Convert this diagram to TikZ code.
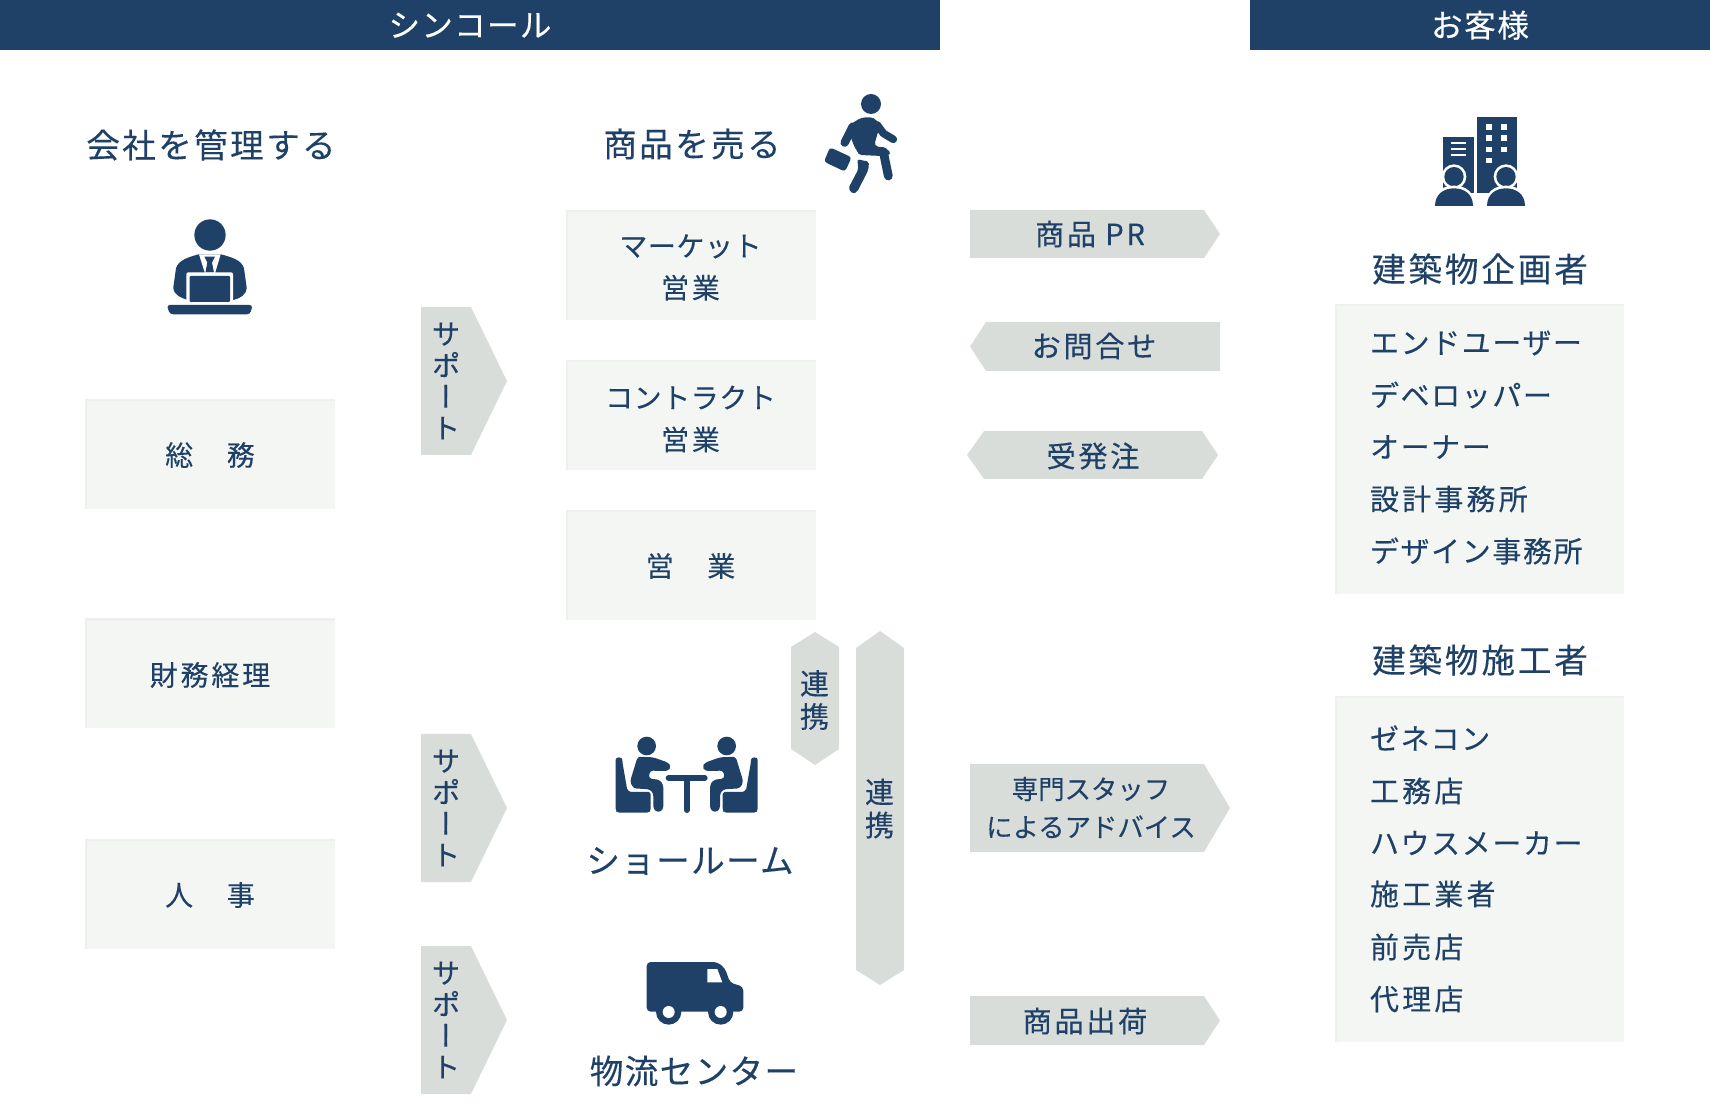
\documentclass[tikz,border=0pt]{standalone}
\usepackage{fontspec}
\setmainfont{Noto Sans CJK JP}[FakeBold=0.2]
\newfontfamily\vjp{Noto Sans CJK JP}[RawFeature=+vert,FakeBold=0.2]
\definecolor{navy}{HTML}{1F4168}
\definecolor{arrowgray}{HTML}{D9DDDA}
\definecolor{panel}{HTML}{F4F6F4}
\definecolor{paneledge}{HTML}{EEF0EE}
\newcommand{\jf}[2]{\fontsize{#1}{#1}\selectfont\addfontfeatures{LetterSpace=#2}}
\newcommand{\wide}[1]{{\addfontfeatures{LetterSpace=10}#1}}
\tikzset{
  lbl/.style={text=navy,inner sep=0pt,outer sep=0pt,align=center},
  headbar/.style={fill=navy,text=white,inner sep=0pt,outer sep=0pt,minimum height=25.2pt},
  heading/.style={lbl,font=\jf{16.8pt}{7}},
  kanaheading/.style={lbl,font=\jf{16.8pt}{4}},
  kanjiheading/.style={lbl,font=\jf{16.8pt}{8.5}},
  boxtext/.style={lbl,font=\fontsize{14pt}{21pt}\selectfont\addfontfeatures{LetterSpace=2}},
  kanjibox/.style={lbl,font=\fontsize{14pt}{21pt}\selectfont\addfontfeatures{LetterSpace=10}},
  lightbox/.style={fill=panel,inner sep=0pt,outer sep=0pt,
    path picture={
      \fill[paneledge] (path picture bounding box.north west) rectangle ([yshift=-1.2pt]path picture bounding box.north east);
      \fill[paneledge] (path picture bounding box.north west) rectangle ([xshift=1.2pt]path picture bounding box.south west);
    }},
  midbox/.style={lightbox,minimum width=125pt,minimum height=55pt},
  listitem/.style={lbl,anchor=west,font=\jf{14.5pt}{5.5}},
  kanjilist/.style={lbl,anchor=west,font=\jf{14.5pt}{11}},
  arrowtext/.style={lbl,font=\jf{14.6pt}{9}},
  vtext/.style={lbl,font={\vjp\fontsize{14.5pt}{15.7pt}\selectfont}},
  ltext/.style={lbl,font=\fontsize{14.5pt}{16.5pt}\selectfont},
  grayshape/.style={fill=arrowgray},
  icon/.style={fill=navy,draw=none},
  limb/.style={draw=navy,line cap=round,line join=round}
}
\begin{document}
\begin{tikzpicture}[x=0.5pt,y=-0.5pt]
\useasboundingbox (0,0) rectangle (1710,1117);

% headers
\node[headbar,minimum width=470pt,font=\jf{15.8pt}{4}] (hL) at (470,25.2) {シンコール};
\node[headbar,minimum width=230pt,font=\jf{15.8pt}{5}] (hR) at (1480,25.2) {お客様};

% headings
\node[heading] (tAdmin) at (211,145) {会社を管理する};
\node[heading] (tSell) at (692,144) {商品を売る};
\node[kanjiheading] (tPlan) at (1480,269) {建築物企画者};
\node[kanjiheading] (tBuild) at (1480,660) {建築物施工者};
\node[kanaheading] (tShow) at (690,861) {ショールーム};
\node[kanaheading] (tLog) at (694,1071) {物流センター};

% left boxes
\node[midbox] (b1) at (210,454) {};
\node[kanjibox] (b1t) at (210,455) {総　務};
\node[midbox] (b2) at (210,673.5) {};
\node[kanjibox] (b2t) at (210,675) {財務経理};
\node[midbox] (b3) at (210,894) {};
\node[kanjibox] (b3t) at (210,895) {人　事};
% middle boxes
\node[midbox] (m1) at (690.5,265) {};
\node[boxtext] (m1t) at (690.5,267.5) {マーケット\\\wide{営業}};
\node[midbox] (m2) at (690.5,415) {};
\node[boxtext] (m2t) at (690.5,419) {コントラクト\\\wide{営業}};
\node[midbox] (m3) at (690.5,565) {};
\node[kanjibox] (m3t) at (690.5,566) {営　業};

% customer panels
\node[lightbox,minimum width=144.5pt,minimum height=145pt] (c1) at (1479.5,449) {};
\node[lightbox,minimum width=144.5pt,minimum height=173pt] (c2) at (1479.5,869) {};
\node[listitem] (l1) at (1370,343) {エンドユーザー};
\node[listitem] (l2) at (1370,395) {デベロッパー};
\node[listitem] (l3) at (1370,447) {オーナー};
\node[kanjilist] (l4) at (1370,499) {設計事務所};
\node[listitem] (l5) at (1370,551) {デザイン事務所};
\node[listitem] (k1) at (1370,738) {ゼネコン};
\node[kanjilist] (k2) at (1370,791) {工務店};
\node[listitem] (k3) at (1370,843) {ハウスメーカー};
\node[kanjilist] (k4) at (1370,894) {施工業者};
\node[kanjilist] (k5) at (1370,947) {前売店};
\node[kanjilist] (k6) at (1370,999) {代理店};

% support arrows
\foreach \t/\nm in {307/s1,734/s2,946/s3}{
  \fill[grayshape] (421,\t) -- (471,\t) -- (507,\t+74) -- (471,\t+148) -- (421,\t+148) -- cycle;
  \node[vtext] (\nm) at (446,\t+74) {サ\\ポ\\ー\\ト};
}

% link shapes
\fill[grayshape] (815,632) -- (839,647) -- (839,749) -- (815,765) -- (791,749) -- (791,647) -- cycle;
\node[ltext] (r1) at (814.5,700) {連\\携};
\fill[grayshape] (880,631) -- (904,648) -- (904,970) -- (880,985) -- (856,970) -- (856,648) -- cycle;
\node[ltext] (r2) at (879.5,808.5) {連\\携};

% horizontal arrows
\fill[grayshape] (970,210) -- (1204,210) -- (1220,234) -- (1204,258) -- (970,258) -- cycle;
\node[arrowtext] (a1) at (1090,234) {商品 PR};
\fill[grayshape] (970,346.5) -- (986,322) -- (1220,322) -- (1220,371) -- (986,371) -- cycle;
\node[arrowtext] (a2) at (1094,346) {お問合せ};
\fill[grayshape] (967,455) -- (984,431) -- (1202,431) -- (1218,455) -- (1202,479) -- (984,479) -- cycle;
\node[arrowtext] (a3) at (1093,456) {受発注};
\fill[grayshape] (970,764) -- (1204,764) -- (1230,808) -- (1204,852) -- (970,852) -- cycle;
\node[lbl,font=\fontsize{13.2pt}{19pt}\selectfont] (a4) at (1091,807.5) {専門スタッフ\\によるアドバイス};
\fill[grayshape] (970,996) -- (1204,996) -- (1220,1020.5) -- (1204,1045) -- (970,1045) -- cycle;
\node[arrowtext] (a5) at (1085,1021) {商品出荷};

% runner icon
\begin{scope}[shift={(800,80)},scale=1/3]
  \fill[icon] (213,72) circle (30);
  \draw[limb,line width=4.2pt] (158,140) -- (134,188);
  \draw[limb,line width=3.8pt] (232,135) -- (250,160) -- (280,178);
  \fill[icon,rounded corners=2pt] (140,140) -- (185,112) -- (222,112) -- (240,135) -- (222,198) -- (262,205) -- (275,225) -- (180,225) -- (165,205) -- cycle;
  \draw[limb,line width=4.4pt] (185,212) -- (250,215) -- (265,288);
  \fill[icon,rounded corners=1pt] (172,238) -- (207,245) -- (205,270) -- (172,335) -- (158,342) -- (145,325) -- (175,268) -- cycle;
  \fill[icon,rounded corners=1.5pt] (90,202) -- (155,232) -- (135,275) -- (72,245) -- cycle;
\end{scope}

% office worker icon
\begin{scope}[shift={(150,200)},scale=1/3]
  \fill[icon] (180,105) circle (47);
  \fill[icon] (145,163) .. controls (115,172) and (85,180) .. (78,205) -- (70,262) .. controls (70,285) and (95,295) .. (115,300) -- (250,300) .. controls (270,295) and (290,285) .. (290,262) -- (282,205) .. controls (275,180) and (245,172) .. (213,163) -- cycle;
  \fill[white] (147,163) -- (212,163) -- (195,220) -- (165,220) -- cycle;
  \fill[icon] (163,170) -- (195,170) -- (186,188) -- (192,218) -- (166,218) -- (172,188) -- cycle;
  \fill[white,rounded corners=1pt] (109,217) rectangle (249,306);
  \fill[icon,rounded corners=0.5pt] (119,228) rectangle (240,306);
  \fill[icon,rounded corners=1.5pt] (50,315) -- (308,315) -- (300,343) -- (60,343) -- cycle;
\end{scope}

% building icon
\begin{scope}[shift={(1420,100)},scale=1/3]
  \fill[icon] (172,52) rectangle (290,278);
  \foreach \y in {72,106,140}{
    \fill[white] (199,\y) rectangle (217,\y+17);
    \fill[white] (244,\y) rectangle (262,\y+17);
  }
  \fill[white] (199,174) rectangle (217,190);
  \fill[icon] (70,112) rectangle (162,278);
  \foreach \y in {130,148,166}{\fill[white] (94,\y-3) rectangle (138,\y+3);}
  \foreach \c in {102,258}{
    \fill[white] (\c,230) circle (37);
    \fill[icon] (\c,230) circle (29);
    \fill[white] (\c-66,325) .. controls (\c-62,272) and (\c-32,257) .. (\c,257) .. controls (\c+32,257) and (\c+62,272) .. (\c+66,325) -- cycle;
    \fill[icon] (\c-57,318) .. controls (\c-57,282) and (\c-30,265) .. (\c,265) .. controls (\c+30,265) and (\c+57,282) .. (\c+57,318) -- cycle;
  }
\end{scope}

% meeting icon
\begin{scope}[shift={(600,720)},scale=1/3]
  \draw[limb,line width=3pt] (206,174) -- (314,174);
  \draw[limb,line width=3pt] (260,174) -- (260,270);
  \foreach \sx/\sh in {1/0,-1/520}{
    \begin{scope}[shift={(\sh,0)},xscale=\sx]
      \fill[icon] (140,78) circle (28);
      \fill[icon,rounded corners=1pt] (47,125) .. controls (47,110) and (67,110) .. (67,125) -- (80,200) .. controls (82,212) and (90,216) .. (100,216) -- (140,216) .. controls (150,216) and (152,222) .. (152,230) -- (152,272) -- (147,278) -- (52,278) -- (47,272) -- cycle;
      \fill[icon,rounded corners=1.5pt] (113,110) -- (160,112) -- (205,128) -- (213,140) -- (205,153) -- (150,152) -- (146,175) -- (180,180) -- (190,195) -- (190,268) -- (175,278) -- (160,268) -- (160,220) -- (150,208) -- (100,205) -- (90,185) -- cycle;
    \end{scope}
  }
\end{scope}

% truck icon
\begin{scope}[shift={(630,950)},scale=1/3]
  \fill[icon,rounded corners=2pt] (50,36) -- (262,36) -- (285,55) -- (300,98) -- (340,110) -- (340,185) -- (50,185) -- cycle;
  \fill[white] (232,57) -- (262,57) -- (277,97) -- (232,97) -- cycle;
  \foreach \c in {116,272}{
    \fill[icon] (\c,186) circle (38);
    \fill[white] (\c,186) circle (18);
  }
\end{scope}
\end{tikzpicture}
\end{document}
